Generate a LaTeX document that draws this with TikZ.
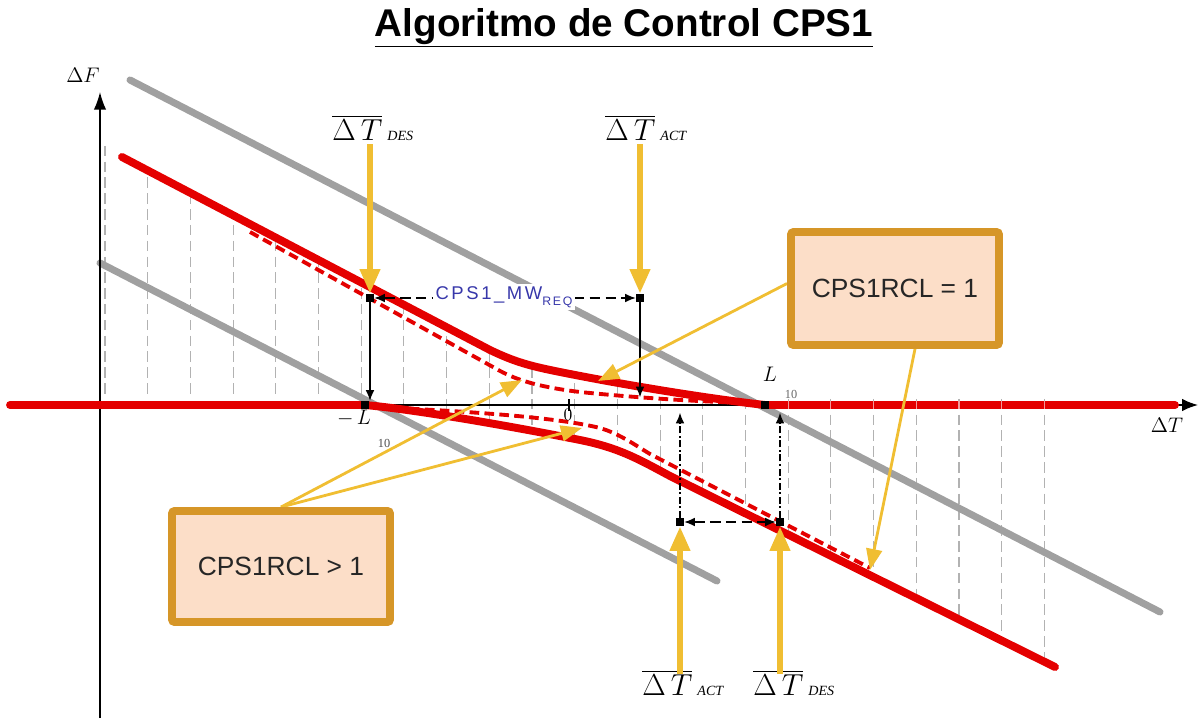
\documentclass[tikz,border=0pt]{standalone}
\usepackage{fontspec}
\newfontfamily\arial{Liberation Sans}
\newfontfamily\arialsp[LetterSpace=14]{Liberation Sans}
\newfontfamily\tms{Liberation Serif}
\usetikzlibrary{arrows.meta,calc}
\pgfdeclarelayer{front}
\pgfsetlayers{main,front}
\definecolor{cred}{RGB}{228,0,0}
\definecolor{cgray}{RGB}{160,160,160}
\definecolor{cyel}{RGB}{240,190,50}
\definecolor{cborder}{RGB}{214,150,40}
\definecolor{cfill}{RGB}{252,222,200}
\definecolor{cblue}{RGB}{55,55,170}
\tikzset{
  redline/.style={cred, line width=4.5pt, line cap=round, line join=round},
  reddash/.style={cred, line width=2.2pt, dash pattern=on 5.5pt off 3pt},
  grayline/.style={cgray, line width=4pt, line cap=round},
  vgrid/.style={gray!60, line width=0.6pt, dash pattern=on 6pt off 3pt},
  blk/.style={black, line width=0.8pt},
  blktip/.style={-{Latex[length=6pt,width=5pt]}},
  bigyel/.style={cyel, line width=3.4pt, -{Triangle[length=14pt,width=11pt]}},
  thinyel/.style={cyel, line width=1.6pt, -{Triangle[length=12pt,width=9pt]}},
  sq/.style={fill=black, minimum size=4.5pt, inner sep=0pt, draw=none, rectangle},
  rclbox/.style={draw=cborder, line width=4.5pt, fill=cfill, rounded corners=1.5pt,
    font=\arial\fontsize{15}{18}\selectfont, text=black!85},
  dtlab/.style={anchor=base west, inner sep=0pt, font=\fontsize{17.28}{20}\selectfont}
}
\newcommand\dtbar[1]{\(\overline{\Delta\,T}\)\,{\tms\itshape\fontsize{8}{9}\selectfont #1}}
\begin{document}
\begin{tikzpicture}[x=0.02cm,y=-0.02cm]
\useasboundingbox (0,0) rectangle (1201,720);

% vertical dashed grid, clipped to the band between the red curves
\begin{scope}
\clip (100,140) -- (122,157) -- (490,350) .. controls (515,362) and (530,366) .. (560,372)
  .. controls (640,388) and (720,400) .. (765,405) -- (765,398) -- (1100,398) -- (1100,690)
  -- (670,476) .. controls (640,460) and (620,448) .. (580,440)
  .. controls (520,428) and (420,410) .. (365,405) -- (365,398) -- (100,398) -- cycle;
\foreach \i in {0,...,22} \draw[vgrid] ({105+42.7*\i},130) -- ({105+42.7*\i},700);
\end{scope}

% gray lines
\draw[grayline] (130,80) -- (1160,612);
\draw[grayline] (100,263) -- (717,581);

% axes
\coordinate (yb) at (100,718);
\coordinate (yt) at (100,92);
\coordinate (xl) at (10,405);
\coordinate (xr) at (1198,405);
\draw[blk, -{Latex[length=10pt,width=7pt]}] (yb) -- (yt);
\draw[blk, -{Latex[length=9pt,width=7pt]}] (xl) -- (xr);
\draw[blk, line width=0.6pt] (569,399) -- (569,411);

% red curves
\draw[redline] (10,405) -- (365,405);
\draw[redline] (765,405) -- (1175,405);
\draw[redline] (122,157) -- (490,350) .. controls (515,362) and (530,366) .. (560,372)
  .. controls (640,388) and (720,400) .. (765,405);
\draw[redline] (365,405) .. controls (420,410) and (520,428) .. (580,440)
  .. controls (620,448) and (640,460) .. (670,476) -- (1055,667);
\draw[reddash] (250,232) -- (493,367) .. controls (510,377) and (530,386) .. (580,392)
  .. controls (640,398) and (690,401) .. (745,403);
\draw[reddash] (395,408) .. controls (480,412) and (560,418) .. (600,428)
  .. controls (620,434) and (635,445) .. (650,454) -- (870,568);

% grid marks across the right red bar
\foreach \i in {16,...,22} \draw[white, opacity=0.6, line width=0.6pt] ({105+42.7*\i},401) -- ({105+42.7*\i},409);

% axis labels
\node[font=\fontsize{12}{14}\selectfont] (dF) at (83,75) {\(\Delta F\)};
\node[font=\fontsize{12}{14}\selectfont] (dT) at (1167,425) {\(\Delta T\)};
\node[font=\fontsize{12}{14}\selectfont] (mL) at (354,418) {\(-\,L\)};
\node[font=\tms\fontsize{7}{8}\selectfont, text=black!70] (mL10) at (384,443) {10};
\node[font=\fontsize{12}{14}\selectfont] (pLl) at (770,374) {\(L\)};
\node[font=\tms\fontsize{7}{8}\selectfont, text=black!60] (pL10) at (791,394) {10};
\node[font=\fontsize{10}{12}\selectfont, inner sep=0pt] (zero) at (568,415) {0};

% black markers
\node[sq] (DESu) at (370,298) {};
\node[sq] (ACTu) at (640,298) {};
\node[sq] (nL) at (365,405) {};
\node[sq] (pL) at (765,405) {};
\node[sq] (ACTd) at (680,522) {};
\node[sq] (DESd) at (780,522) {};

\draw[blk, blktip] (DESu) -- (DESu |- nL.north);
\draw[blk, blktip] (ACTu) -- ([yshift=2pt]ACTu |- nL.north);
\draw[blk, blktip, dash pattern=on 4pt off 1.5pt on 1pt off 1.5pt] (ACTd) -- ([yshift=-2pt]ACTd |- nL.south);
\draw[blk, blktip, dash pattern=on 4pt off 1.5pt on 1pt off 1.5pt] (DESd) -- ([yshift=-2pt]DESd |- pL.south);
\draw[blk, {Latex[length=6pt,width=5pt]}-{Latex[length=6pt,width=5pt]}, dash pattern=on 6pt off 3pt] (DESu) -- (ACTu);
\draw[blk, {Latex[length=6pt,width=5pt]}-{Latex[length=6pt,width=5pt]}, dash pattern=on 6pt off 3pt] (ACTd) -- (DESd);

\node[fill=white, inner sep=1.5pt, text=cblue] (mw) at (504,297)
  {{\arialsp\fontsize{10.5}{12}\selectfont CPS1\_MW}\raisebox{-3.2pt}{\arialsp\fontsize{7}{8}\selectfont REQ}};

% delta T labels
\node[dtlab] (tDES) at (332,140) {\dtbar{DES}};
\node[dtlab] (tACT) at (605,140) {\dtbar{ACT}};
\node[dtlab] (bACT) at (642,695) {\dtbar{ACT}};
\node[dtlab] (bDES) at (753,695) {\dtbar{DES}};

% yellow arrows
\draw[bigyel] ([yshift=-2pt]DESu |- tDES.south) -- (DESu.north);
\draw[bigyel] ([yshift=-2pt]ACTu |- tACT.south) -- (ACTu.north);
\draw[bigyel] ([yshift=-2pt]ACTd |- bACT.north) -- (ACTd.south);
\draw[bigyel] ([yshift=-2pt]DESd |- bDES.north) -- (DESd.south);

% boxes (on the front layer, so the callout lines start beneath them)
\begin{pgfonlayer}{front}
\node[rclbox, minimum width=4.16cm, minimum height=2.26cm] (box1) at (895,288.5) {CPS1RCL = 1};
\node[rclbox, minimum width=4.36cm, minimum height=2.22cm] (box2) at (281,566.5) {CPS1RCL > 1};
\end{pgfonlayer}

\coordinate (e1) at (598,381);
\coordinate (e2) at (870,570);
\coordinate (e3) at (522,380);
\coordinate (e4) at (582,428);
\draw[thinyel] ($(box1.west)+(0,-5)$) -- (e1);
\draw[thinyel] ($(box1.south)+(20,0)$) -- (e2);
\draw[thinyel] (box2.north) -- (e3);
\draw[thinyel] (box2.north) -- (e4);

% title
\node[font=\arial\bfseries\fontsize{22}{26}\selectfont] (title) at (624,28) {\underline{Algoritmo de Control CPS1}};
\end{tikzpicture}
\end{document}
